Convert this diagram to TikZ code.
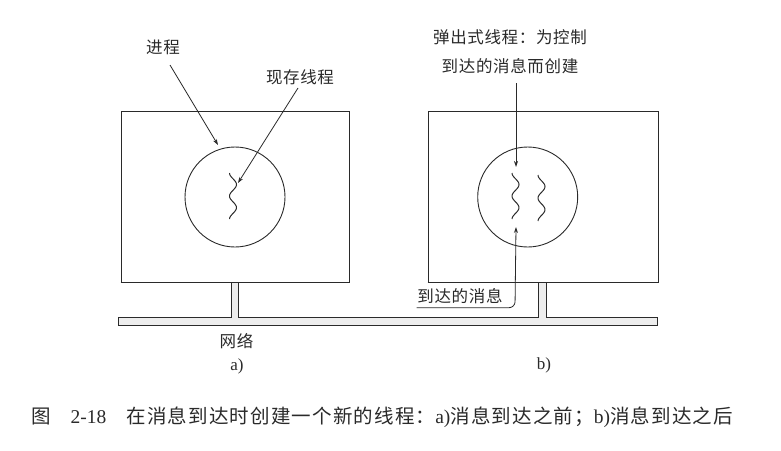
\documentclass[tikz,border=0pt]{standalone}
\usepackage{fontspec}
\setmainfont{Liberation Serif}
\newfontfamily\cjk{Noto Sans CJK SC}
\newfontfamily\cjkcap[LetterSpace=6]{Noto Sans CJK SC}
\newfontfamily\cjklbl[LetterSpace=4]{Noto Sans CJK SC}
\usetikzlibrary{arrows.meta}
\definecolor{ink}{HTML}{2A2A2A}
\tikzset{
  hostbox/.style={draw=ink, line width=0.9pt, rectangle, inner sep=0pt},
  proc/.style={draw=ink, line width=0.9pt, circle, minimum size=100pt, inner sep=0pt},
  squig/.style={draw=ink, line width=1pt},
  ptr/.style={draw=ink, line width=0.8pt, -{Stealth[length=6pt,width=4pt]}},
  lbl/.style={text=ink, font=\cjklbl\fontsize{16.5}{29}\selectfont, inner sep=0pt, align=center},
  sub/.style={text=ink, font=\fontsize{17}{20}\selectfont, inner sep=0pt},
  net/.style={draw=ink, line width=0.8pt, fill=black!7},
}
\newcommand{\squiggle}[2]{%
  \draw[squig] plot[domain=0:46, samples=60, smooth] ({#1-3.5*cos(\x*15.6)}, {#2+\x});}
\begin{document}
\begin{tikzpicture}[x=1pt, y=-1pt]
\useasboundingbox (0,0) rectangle (781,450);
% hosts
\node[hostbox, minimum width=228pt, minimum height=171pt] (boxa) at (235,196.5) {};
\node[hostbox, minimum width=230pt, minimum height=171pt] (boxb) at (543,196.5) {};
\node[proc] (proca) at (235,197) {};
\node[proc] (procb) at (527.7,197) {};
% threads
\squiggle{233}{173}
\squiggle{515.5}{173}
\squiggle{541.5}{175}
\coordinate (thra) at (238,183);
\coordinate (thrbtop) at (516,167);
\coordinate (thrbbot) at (516,227);
\coordinate (procedge) at (218,145);
% network
\path[net] (118,317) -- (231,317) -- (231,282) -- (238,282) -- (238,317)
  -- (538,317) -- (538,282) -- (546,282) -- (546,317) -- (657,317)
  -- (657,325) -- (118,325) -- cycle;
\draw[ink, line width=0.9pt] (boxa.south west) -- (boxa.south east);
\draw[ink, line width=0.9pt] (boxb.south west) -- (boxb.south east);
% labels
\node[lbl] (lproc) at (163,47) {进程};
\node[lbl] (lthr) at (300,77) {现存线程};
\node[lbl] (lpop) at (510,52) {弹出式线程：为控制\\到达的消息而创建};
\node[lbl] (lmsg) at (460,296) {到达的消息};
\node[lbl] (lnet) at (236.5,341.5) {网络};
\node[sub] (la) at (237,366) {a)};
\node[sub] (lb) at (544,365) {b)};
\coordinate (msgstart) at (416.5,307.7);
% arrows
\draw[ptr] (170,65) -- (procedge);
\draw[ptr] (298,88) -- (thra);
\draw[ptr] (516,83) -- (thrbtop);
\draw[ptr, rounded corners=6pt] (msgstart) -- (515,307.7) -- (thrbbot);
% caption
\node[text=ink, inner sep=0pt, font=\fontsize{19.5}{22}\selectfont, anchor=west] (cap) at (31,417)
  {{\cjk 图}\hspace{20pt}2-18\hspace{20pt}{\cjkcap 在消息到达时创建一个新的线程：}a){\cjkcap 消息到达之前；}b){\cjkcap 消息到达之后}};
\end{tikzpicture}
\end{document}
